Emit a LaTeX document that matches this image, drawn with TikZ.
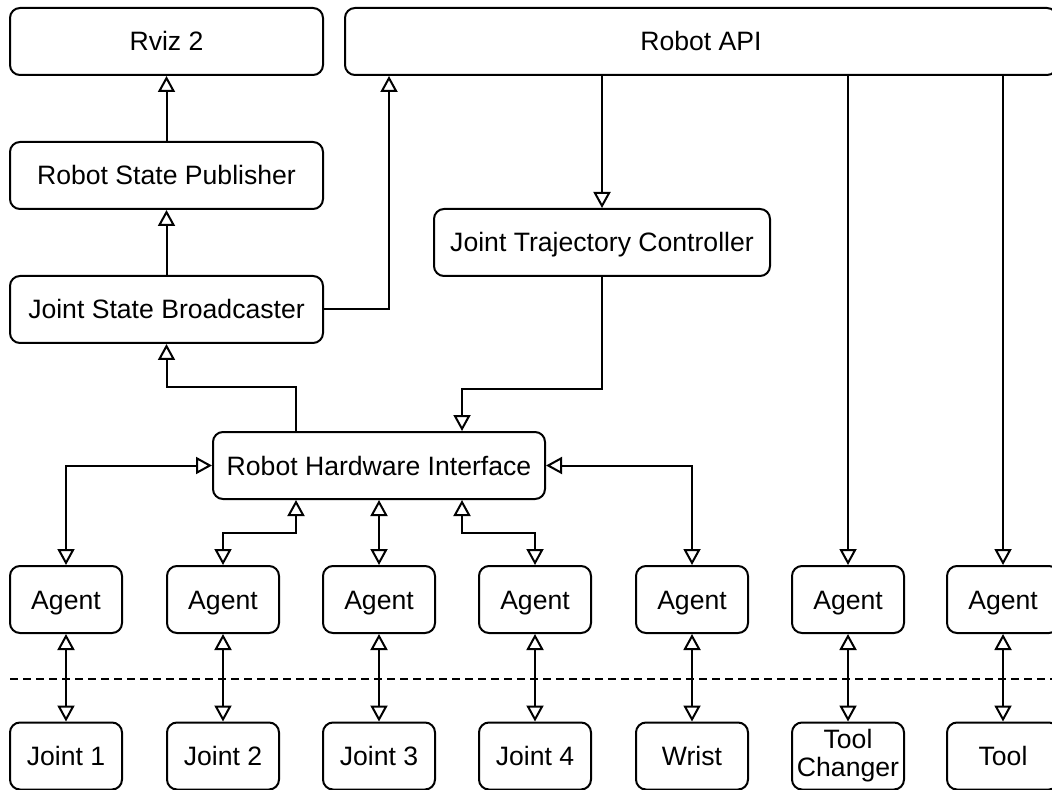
\documentclass[tikz,border=0pt]{standalone}
\usepackage{fontspec}
\setmainfont{Liberation Sans}
\usetikzlibrary{arrows.meta}

\tikzset{
  block/.style={draw=black, line width=1pt, rounded corners=5pt, inner sep=0pt,
    minimum width=156.5pt, minimum height=33.5pt, align=center,
    text height=9.5pt, text depth=0pt,
    font=\fontsize{13.3}{14}\selectfont},
  agentbox/.style={block, minimum width=56pt},
  link/.style={draw=black, line width=1pt, -{Triangle[open, length=8pt, width=8.5pt]}},
  duplex/.style={link, {Triangle[open, length=8pt, width=8.5pt]}-{Triangle[open, length=8pt, width=8.5pt]}},
}

\begin{document}
\begin{tikzpicture}[x=0.5pt, y=-0.5pt]
\useasboundingbox (0,0) rectangle (1052,790);

% upper layer
\node[block] (rviz) at (166.5, 41.5) {Rviz 2};
\node[block, minimum width=356pt] (api) at (701, 41.5) {Robot API};
\node[block] (rsp) at (166.5, 175.5) {Robot State Publisher};
\node[block] (jsb) at (166.5, 309.5) {Joint State Broadcaster};
\node[block, minimum width=168pt] (jtc) at (602, 242.5) {Joint Trajectory Controller};
\node[block, minimum width=166pt] (rhi) at (379, 465.5) {Robot Hardware Interface};

% agents
\node[agentbox] (agent1) at (66, 599.5) {Agent};
\node[agentbox] (agent2) at (223, 599.5) {Agent};
\node[agentbox] (agent3) at (379, 599.5) {Agent};
\node[agentbox] (agent4) at (535, 599.5) {Agent};
\node[agentbox] (agent5) at (692, 599.5) {Agent};
\node[agentbox] (agent6) at (848, 599.5) {Agent};
\node[agentbox] (agent7) at (1003, 599.5) {Agent};

% hardware
\node[agentbox] (joint1) at (66, 756) {Joint 1};
\node[agentbox] (joint2) at (223, 756) {Joint 2};
\node[agentbox] (joint3) at (379, 756) {Joint 3};
\node[agentbox] (joint4) at (535, 756) {Joint 4};
\node[agentbox] (wrist) at (692, 756) {Wrist};
\node[agentbox, text height=, text depth=] (changer) at (848, 756) {Tool\\Changer};
\node[agentbox] (tool) at (1003, 756) {Tool};

\draw[black, line width=1pt, dash pattern=on 4pt off 2.5pt] (10,679) -- (1052,679);

% state path
\draw[link] (rsp) -- (rviz);
\draw[link] (jsb) -- (rsp);
\draw[link] (jsb.east) -| ([xshift=22.5pt]api.south west);
\draw[link] ([xshift=-41.5pt]rhi.north) -- ++(0,22pt) -| (jsb.south);

% command path
\draw[link] (api.south -| jtc) -- (jtc);
\draw[link] (jtc.south) -- ++(0,-56pt) -| ([xshift=41.5pt]rhi.north);
\draw[link] (api.south -| agent6) -- (agent6);
\draw[link] (api.south -| agent7) -- (agent7);

% interface to agents
\draw[duplex] (agent1.north) |- (rhi.west);
\draw[duplex] (rhi.east) -| (agent5.north);
\draw[duplex] ([xshift=-41.5pt]rhi.south) -- ++(0,-16.5pt) -| (agent2.north);
\draw[duplex] (rhi.south) -- (agent3.north);
\draw[duplex] ([xshift=41.5pt]rhi.south) -- ++(0,-16.5pt) -| (agent4.north);

% agents to hardware
\draw[duplex] (agent1) -- (joint1);
\draw[duplex] (agent2) -- (joint2);
\draw[duplex] (agent3) -- (joint3);
\draw[duplex] (agent4) -- (joint4);
\draw[duplex] (agent5) -- (wrist);
\draw[duplex] (agent6) -- (changer);
\draw[duplex] (agent7) -- (tool);

\end{tikzpicture}
\end{document}
